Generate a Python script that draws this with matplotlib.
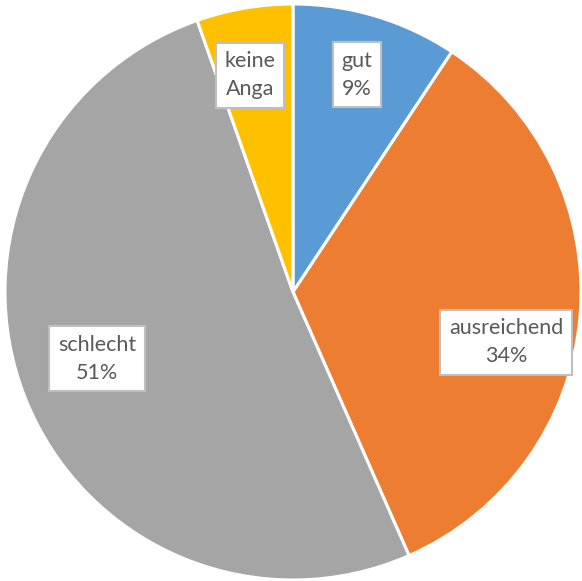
import matplotlib.pyplot as plt

categories = ["gut", "ausreichend", "schlecht", "keine Angabe"]
shares = [9.3, 34.1, 51.2, 5.4]
shown_labels = ["gut\n9%", "ausreichend\n34%", "schlecht\n51%", "keine\nAnga"]
colors = ["#5B9BD5", "#ED7D31", "#A5A5A5", "#FFC000"]

# label centres in axes data units (pie radius = 1)
label_pos = [(0.222, 0.755), (0.74, -0.174), (-0.68, -0.232), (-0.149, 0.752)]


def draw_pie(ax):
    ax.pie(shares, colors=colors, startangle=90, counterclock=False,
           radius=1, wedgeprops={"edgecolor": "white", "linewidth": 2.2})


def draw_labels(ax):
    for (x, y), text in zip(label_pos, shown_labels):
        ax.text(x, y, text, ha="center", va="center", fontsize=15.5,
                family="Lato", color="#595959", linespacing=1.5,
                bbox={"boxstyle": "square,pad=0.4", "facecolor": "white",
                      "edgecolor": "#BFBFBF", "linewidth": 1.5})


fig = plt.figure(figsize=(5.82, 5.81), dpi=100)
ax = fig.add_axes([0, 0, 1, 1])
draw_pie(ax)
draw_labels(ax)
ax.set_aspect("auto")
ax.set_xlim(-293 / 288, 289 / 288)
ax.set_ylim(-289 / 288, 292 / 288)
ax.axis("off")
fig.savefig("out.png", dpi=100, facecolor="white")
